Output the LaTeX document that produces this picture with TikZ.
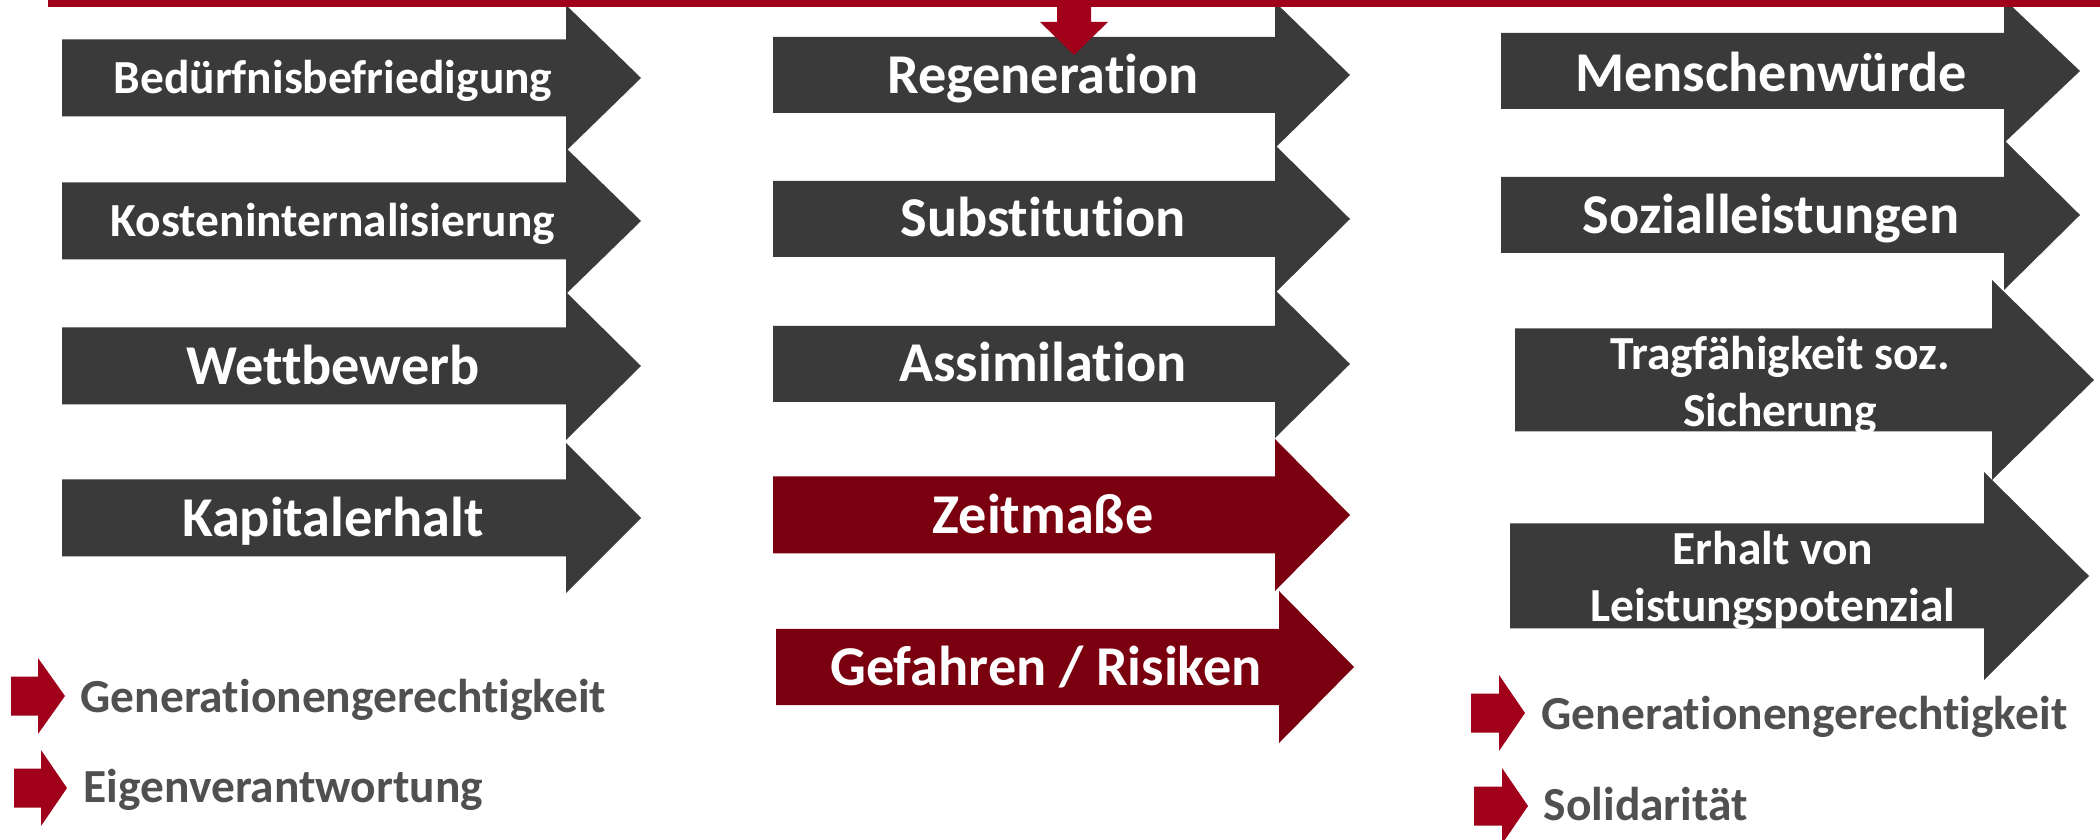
\documentclass[tikz,border=0pt]{standalone}
\usepackage{fontspec}
\setmainfont{Carlito}[Ligatures=NoCommon]
\usepackage{tikz}
\usepackage{xcolor}
\usetikzlibrary{positioning}

\definecolor{dunkelgrau}{HTML}{3A3A3A}
\definecolor{textgrau}{HTML}{505050}
\definecolor{weinrot}{HTML}{7A0010}
\definecolor{signalrot}{HTML}{A0001A}

% block arrow: fill, x left, x neck, x tip, y centre, half shaft, half head
\newcommand{\blockpfeil}[7]{%
  \fill[#1] (#2,#5-#6) -- (#3,#5-#6) -- (#3,#5-#7) -- (#4,#5)
    -- (#3,#5+#7) -- (#3,#5+#6) -- (#2,#5+#6) -- cycle;}

\tikzset{
  gross/.style={font=\bfseries\fontsize{16}{19}\selectfont, text=white, anchor=base, inner sep=0pt},
  klein/.style={font=\bfseries\fontsize{13.5}{16}\selectfont, text=white, anchor=base, inner sep=0pt},
  zweizeilig/.style={font=\bfseries\fontsize{13.5}{16.2}\selectfont, text=white, align=center, inner sep=0pt},
  legende/.style={font=\bfseries\fontsize{13.5}{15}\selectfont, text=textgrau, anchor=base west, inner sep=0pt}
}

\begin{document}
\begin{tikzpicture}[x=0.1mm, y=-0.1mm]
\useasboundingbox (0,0) rectangle (2100,840);

% left column
\blockpfeil{dunkelgrau}{62}{566}{641}{78}{38.5}{73}
\blockpfeil{dunkelgrau}{62}{566}{641}{221}{38.5}{73}
\blockpfeil{dunkelgrau}{62}{566}{641}{366}{38.5}{74}
\blockpfeil{dunkelgrau}{62}{566}{641}{518}{38.5}{75}
\node[klein] (bed) at (333, 94) {Bedürfnisbefriedigung};
\node[klein] (kost) at (333, 237) {Kosteninternalisierung};
\node[gross] (wett) at (333, 385) {Wettbewerb};
\node[gross] (kap) at (333, 537) {Kapitalerhalt};

% middle column
\blockpfeil{dunkelgrau}{773}{1275}{1350}{75}{38}{73}
\blockpfeil{dunkelgrau}{773}{1275}{1350}{219}{38}{74}
\blockpfeil{dunkelgrau}{773}{1275}{1350}{364}{38}{74}
\blockpfeil{weinrot}{773}{1275}{1350}{515}{38.5}{76}
\blockpfeil{weinrot}{776}{1279}{1354}{667}{38}{76}
\node[gross] (reg) at (1043, 94) {Regeneration};
\node[gross] (sub) at (1043, 237) {Substitution};
\node[gross] (ass) at (1043, 382) {Assimilation};
\node[gross] (zeit) at (1043, 534) {Zeitmaße};
\node[gross] (gef) at (1046, 686) {Gefahren / Risiken};

% right column
\blockpfeil{dunkelgrau}{1501}{2004}{2080}{71}{38}{72}
\blockpfeil{dunkelgrau}{1501}{2004}{2080}{215}{38}{75}
\blockpfeil{dunkelgrau}{1515}{1992}{2094}{380}{51.5}{100}
\blockpfeil{dunkelgrau}{1510}{1984}{2089}{576}{52.5}{104}
\node[gross] (mensch) at (1771, 92) {Menschenwürde};
\node[gross] (sozial) at (1771, 234) {Sozialleistungen};
\node[zweizeilig] (trag) at (1780, 385) {Tragfähigkeit soz.\\Sicherung};
\node[zweizeilig] (erh) at (1773, 580) {Erhalt von\\Leistungspotenzial};

% legends
\blockpfeil{signalrot}{11}{38}{65}{696}{19.5}{38}
\blockpfeil{signalrot}{14}{41}{67}{788}{19.5}{38}
\blockpfeil{signalrot}{1471}{1499}{1525}{713}{19.5}{38}
\blockpfeil{signalrot}{1474}{1502}{1528}{806}{19.5}{38}
\node[legende] (gen1) at (80, 712) {Generationengerechtigkeit};
\node[legende] (eigen) at (83, 802) {Eigenverantwortung};
\node[legende] (gen2) at (1541, 729) {Generationengerechtigkeit};
\node[legende] (soli) at (1543, 820) {Solidarität};

% top bar with downward arrow
\fill[signalrot] (48,0) rectangle (2100,7);
\fill[signalrot] (1057,7) -- (1091,7) -- (1091,22) -- (1108,22) -- (1074,55)
  -- (1040,22) -- (1057,22) -- cycle;
\end{tikzpicture}
\end{document}
